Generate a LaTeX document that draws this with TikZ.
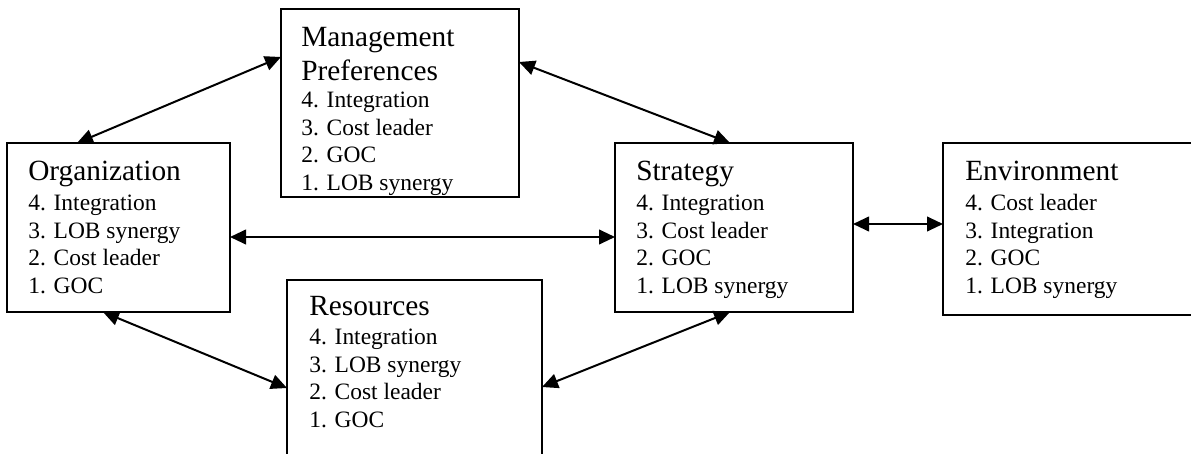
\documentclass[tikz,border=0pt]{standalone}
\usepackage{fontspec}
\setmainfont{Liberation Serif}
\usetikzlibrary{arrows.meta,calc}
\begin{document}
\begin{tikzpicture}[x=0.75pt,y=-0.75pt,
  panel/.style={draw,line width=1.2pt,inner sep=0pt,outer sep=0pt,anchor=north west},
  ttl/.style={inner sep=0pt,anchor=base west,align=left,font=\fontsize{22}{25.5}\selectfont},
  itm/.style={inner sep=0pt,anchor=base west,align=left,font=\fontsize{17.6}{20.6}\selectfont},
  link/.style={line width=1.5pt,{Triangle[length=12pt,width=11pt]}-{Triangle[length=12pt,width=11pt]}}]
\useasboundingbox[fill=white] (0,0) rectangle (1191,453);

% boxes
\node[panel,minimum width=178.5pt,minimum height=141pt] (mgmt) at (281,9) {};
\node[panel,minimum width=167.25pt,minimum height=126.75pt] (org) at (7,143) {};
\node[panel,minimum width=178.5pt,minimum height=126.75pt] (strat) at (615,143) {};
\node[panel,minimum width=195pt,minimum height=129pt] (env) at (943,143) {};
\node[panel,minimum width=191.25pt,minimum height=138.75pt] (res) at (287,280) {};

% texts
\node[ttl] (mgmtT) at ($(mgmt.north west)+(20,71)$) {Management\\Preferences};
\node[itm] (mgmtL) at ($(mgmt.north west)+(20,181)$) {4. Integration\\3. Cost leader\\2. GOC\\1. LOB synergy};

\node[ttl] (orgT) at ($(org.north west)+(21,37)$) {Organization};
\node[itm] (orgL) at ($(org.north west)+(21,150)$) {4. Integration\\3. LOB synergy\\2. Cost leader\\1. GOC};

\node[ttl] (stratT) at ($(strat.north west)+(21,37)$) {Strategy};
\node[itm] (stratL) at ($(strat.north west)+(21,150)$) {4. Integration\\3. Cost leader\\2. GOC\\1. LOB synergy};

\node[ttl] (envT) at ($(env.north west)+(22,37)$) {Environment};
\node[itm] (envL) at ($(env.north west)+(22,150)$) {4. Cost leader\\3. Integration\\2. GOC\\1. LOB synergy};

\node[ttl] (resT) at ($(res.north west)+(22,35)$) {Resources};
\node[itm] (resL) at ($(res.north west)+(22,147)$) {4. Integration\\3. LOB synergy\\2. Cost leader\\1. GOC};

% connectors
\draw[link] ($(org.north west)+(70,0)$) -- ($(mgmt.north west)+(0,48)$);
\draw[link] ($(mgmt.north east)+(0,53)$) -- ($(strat.north west)+(115,0)$);
\draw[link] ($(org.north east)+(0,94)$) -- ($(strat.north west)+(0,94)$);
\draw[link] ($(strat.north east)+(0,81)$) -- ($(env.north west)+(0,81)$);
\draw[link] ($(org.south west)+(96,0)$) -- ($(res.north west)+(0,108)$);
\draw[link] ($(strat.south west)+(115,0)$) -- ($(res.north east)+(0,107)$);
\end{tikzpicture}
\end{document}
